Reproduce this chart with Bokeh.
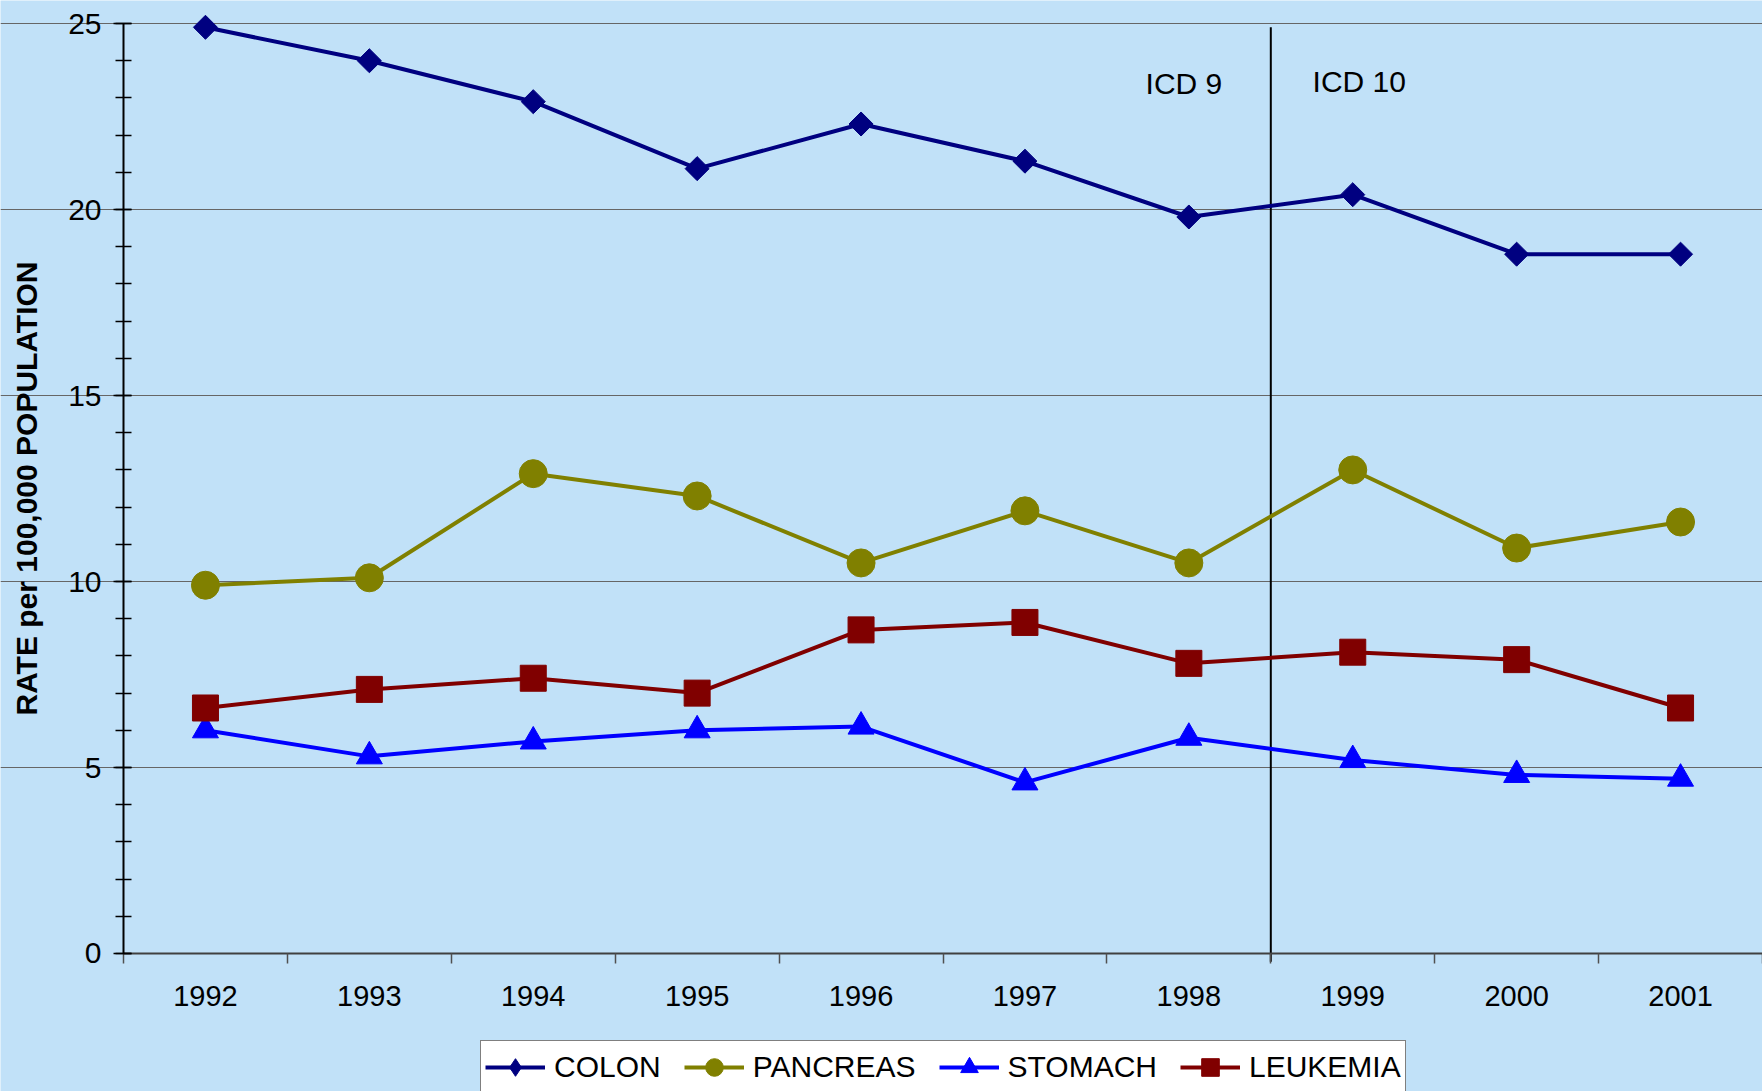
import math
from bokeh.plotting import figure
from bokeh.models import FixedTicker, Legend, LegendItem, Range1d, ColumnDataSource, Label
from bokeh.embed import file_html
from bokeh.resources import INLINE
from bokeh.core.properties import value

# ---------------- data ----------------
years = ["1992", "1993", "1994", "1995", "1996", "1997", "1998", "1999", "2000", "2001"]
colon = [24.9, 24.0, 22.9, 21.1, 22.3, 21.3, 19.8, 20.4, 18.8, 18.8]
pancreas = [9.9, 10.1, 12.9, 12.3, 10.5, 11.9, 10.5, 13.0, 10.9, 11.6]
stomach = [6.0, 5.3, 5.7, 6.0, 6.1, 4.6, 5.8, 5.2, 4.8, 4.7]
leukemia = [6.6, 7.1, 7.4, 7.0, 8.7, 8.9, 7.8, 8.1, 7.9, 6.6]
series_names = ["COLON", "PANCREAS", "STOMACH", "LEUKEMIA"]
y_major = [0, 5, 10, 15, 20, 25]
y_minor = list(range(0, 26))
last_icd9_year = "1998"
first_icd10_year = "1999"
icd_labels = ["ICD 9", "ICD 10"]
y_label = "RATE per 100,000 POPULATION"

# ---------------- styles ----------------
BG = "#C1E1F8"
FONT = "Liberation Sans"
styles = {
    # plot marker; legend marker (Bokeh legends draw markers unrotated)
    "COLON": dict(color="#000080", marker="square", size=17, angle=math.pi / 4, legend_marker="diamond"),
    "PANCREAS": dict(color="#808000", marker="circle", size=28, angle=0, legend_marker=None),
    "STOMACH": dict(color="#0000FF", marker="triangle", size=26, angle=0, legend_marker=None),
    "LEUKEMIA": dict(color="#800000", marker="square", size=26, angle=0, legend_marker=None),
}

n = len(years)
xs = [i + 0.5 for i in range(n)]
y_top = y_major[-1]

p = figure(width=1762, height=1091, output_backend="svg", toolbar_location=None,
           x_range=Range1d(-0.7505, n), y_range=Range1d(-3.71, 25.62),
           min_border_left=0, min_border_right=0, min_border_top=0, min_border_bottom=0,
           background_fill_color=BG, border_fill_color=BG, outline_line_color=None)

# grid
p.xgrid.visible = False
p.ygrid.ticker = FixedTicker(ticks=y_major[1:])
p.ygrid.bounds = (0, n)
p.ygrid.grid_line_color = "#666666"
p.ygrid.grid_line_width = 1

# y axis, drawn at x = 0
ya = p.yaxis[0]
ya.fixed_location = 0
ya.ticker = FixedTicker(ticks=y_major, minor_ticks=y_minor)
ya.bounds = (0, y_top)
ya.axis_line_color = "black"
ya.axis_line_width = 2
ya.major_tick_in = 8
ya.major_tick_out = 10
ya.minor_tick_in = 8
ya.minor_tick_out = 8
ya.major_tick_line_color = "black"
ya.minor_tick_line_color = "black"
ya.major_tick_line_width = 1.5
ya.minor_tick_line_width = 1.5
ya.major_label_text_font = FONT
ya.major_label_text_font_size = "30px"
ya.major_label_text_color = "black"
ya.major_label_standoff = 12

# y axis title (centred on the 0..25 axis)
p.add_layout(Label(x=26, x_units="screen", y=y_top / 2, text=y_label, angle=math.pi / 2,
                   text_align="center", text_baseline="middle", text_font=FONT,
                   text_font_style="bold", text_font_size="30px", text_color="black"))

# x axis, drawn at y = 0
xa = p.xaxis[0]
xa.fixed_location = 0
xa.bounds = (0, n)
xa.ticker = FixedTicker(ticks=xs, minor_ticks=list(range(n + 1)))
xa.major_label_overrides = {xv: yr for xv, yr in zip(xs, years)}
xa.axis_line_color = "#404040"
xa.axis_line_width = 2
xa.major_tick_in = 0
xa.major_tick_out = 0
xa.minor_tick_in = 0
xa.minor_tick_out = 10
xa.minor_tick_line_color = "#505050"
xa.minor_tick_line_width = 1.5
xa.major_label_text_font = FONT
xa.major_label_text_font_size = "29px"
xa.major_label_text_color = "black"
xa.major_label_standoff = 23

# ICD division line
split = years.index(first_icd10_year)
p.segment(x0=[split], y0=[-0.22], x1=[split], y1=[24.9], line_color="black", line_width=2)

# ICD labels
icd_src = ColumnDataSource(dict(
    x=[xs[years.index(last_icd9_year)] - 0.03, xs[years.index(first_icd10_year)] + 0.04],
    y=[23.4, 23.45], text=icd_labels))
p.text(x="x", y="y", text="text", source=icd_src, text_font=value(FONT),
       text_font_size="30px", text_align="center", text_baseline="middle", text_color="black")

# series
data = {"COLON": colon, "PANCREAS": pancreas, "STOMACH": stomach, "LEUKEMIA": leukemia}
items = []
for name in series_names:
    st = styles[name]
    src = ColumnDataSource(dict(x=xs, y=data[name]))
    lr = p.line("x", "y", source=src, line_color=st["color"], line_width=4)
    legend_rs = [lr]
    if st["legend_marker"] is not None:
        # same points, drawn under the plot marker; used for the legend swatch
        lm = p.scatter("x", "y", source=src, marker=st["legend_marker"], size=18,
                       fill_color=st["color"], line_color=st["color"])
        legend_rs.append(lm)
    sr = p.scatter("x", "y", source=src, marker=st["marker"], size=st["size"], angle=st["angle"],
                   fill_color=st["color"], line_color=st["color"])
    if st["legend_marker"] is None:
        legend_rs.append(sr)
    items.append(LegendItem(label=name, renderers=legend_rs))

legend = Legend(items=items, orientation="horizontal", location=(480, -3),
                border_line_color="black", border_line_width=1.5,
                background_fill_color="white", background_fill_alpha=1.0,
                label_text_font=FONT, label_text_font_size="30px", label_text_color="black",
                glyph_width=60, glyph_height=44, label_height=44, label_standoff=9,
                spacing=23, padding=4, margin=0)
p.add_layout(legend, "center")

open("out.html", "w").write(file_html(p, INLINE))
